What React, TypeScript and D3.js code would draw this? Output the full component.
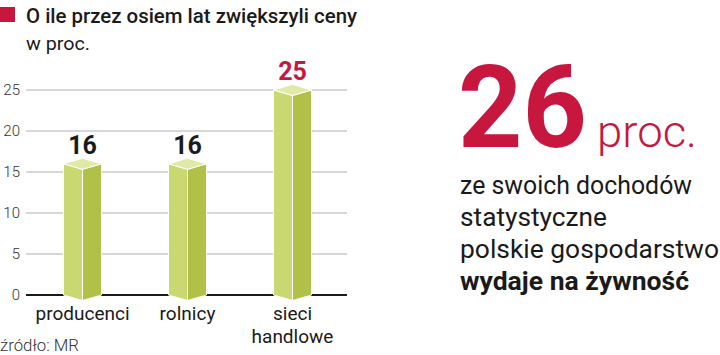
import React from 'react'
import * as d3 from 'd3'

// data
const categories = ['producenci', 'rolnicy', 'sieci handlowe']
const values = [16, 16, 25]
const valueColors = ['#1a1a1a', '#1a1a1a', '#c8173f']
const yTicks = [0, 5, 10, 15, 20, 25]
const title = 'O ile przez osiem lat zwiększyli ceny'
const subtitle = 'w proc.'
const source = 'źródło: MR'
const bigNumber = '26'
const bigUnit = 'proc.'
const sideLines = ['ze swoich dochodów', 'statystyczne', 'polskie gospodarstwo', 'wydaje na żywność']

const W = 720
const H = 355
const RED = '#c8173f'
const FONT = 'Roboto, "DejaVu Sans", sans-serif'

function App() {
  const x = d3.scaleBand().domain(categories).range([30, 345]).padding(0)
  const y = d3.scaleLinear().domain([0, 25]).range([295, 90])
  const half = 19
  const d = 5.5

  return (
    <svg width={W} height={H} style={{position: 'absolute', left: 0, top: 0, background: '#fff'}}>
      {/* title */}
      <rect x={0} y={7} width={15} height={15} fill={RED} />
      <text x={26} y={23} fontFamily={FONT} fontWeight={500} fontSize={21} fill="#1a1a1a" textLength={331} lengthAdjust="spacingAndGlyphs">
        {title}
      </text>
      <text x={26} y={50} fontFamily={FONT} fontSize={18} fill="#1a1a1a" textLength={64} lengthAdjust="spacingAndGlyphs">
        {subtitle}
      </text>

      {/* grid */}
      {yTicks.map((t) => (
        <g key={t}>
          {t > 0 && <line x1={26} x2={347} y1={y(t)} y2={y(t)} stroke="#b0b0b0" strokeWidth={1} />}
          <text x={20} y={y(t) + 5} textAnchor="end" fontFamily={FONT} fontWeight={300} fontSize={15} fill="#333">
            {t}
          </text>
        </g>
      ))}
      <line x1={26} x2={347} y1={y(0)} y2={y(0)} stroke="#1a1a1a" strokeWidth={2} />

      {/* bars */}
      {categories.map((c, i) => {
        const cx = (x(c) as number) + x.bandwidth() / 2
        const yt = y(values[i])
        const yb = y(0)
        const left = [[cx - half, yt], [cx, yt + d], [cx, yb + d], [cx - half, yb]]
        const right = [[cx, yt + d], [cx + half, yt], [cx + half, yb], [cx, yb + d]]
        const top = [[cx - half, yt], [cx, yt - d], [cx + half, yt], [cx, yt + d]]
        const pts = (p: number[][]) => p.map((q) => q.join(',')).join(' ')
        return (
          <g key={c}>
            <polygon points={pts(left)} fill="#c9d871" stroke="#fff" strokeWidth={1} />
            <polygon points={pts(right)} fill="#b1c148" stroke="#fff" strokeWidth={1} />
            <polygon points={pts(top)} fill="#e1e9a6" stroke="#fff" strokeWidth={1} />
            <text x={cx} y={yt - 10} textAnchor="middle" fontFamily={FONT} fontWeight={700} fontSize={25} fill={valueColors[i]}>
              {values[i]}
            </text>
            {c.split(' ').map((w, j) => (
              <text key={w} x={cx} y={320 + j * 23} textAnchor="middle" fontFamily={FONT} fontSize={19} fill="#1a1a1a">
                {w}
              </text>
            ))}
          </g>
        )
      })}

      <text x={0} y={351} fontFamily={FONT} fontWeight={300} fontSize={16} fill="#333" textLength={79} lengthAdjust="spacingAndGlyphs">
        {source}
      </text>

      {/* side note */}
      <text x={458} y={147} fontFamily={FONT} fontWeight={700} fontSize={115} fill={RED} textLength={129} lengthAdjust="spacingAndGlyphs">
        {bigNumber}
      </text>
      <text x={597} y={147} fontFamily={FONT} fontWeight={300} fontSize={45} fill={RED} textLength={100} lengthAdjust="spacingAndGlyphs">
        {bigUnit}
      </text>
      {sideLines.map((l, i) => (
        <text
          key={l}
          x={460}
          y={194 + i * 32}
          fontFamily={FONT}
          fontWeight={i === sideLines.length - 1 ? 700 : 400}
          fontSize={25}
          fill="#1a1a1a"
          textLength={[232, 147, 259, 229][i]}
          lengthAdjust="spacingAndGlyphs"
        >
          {l}
        </text>
      ))}
    </svg>
  )
}

export default App
